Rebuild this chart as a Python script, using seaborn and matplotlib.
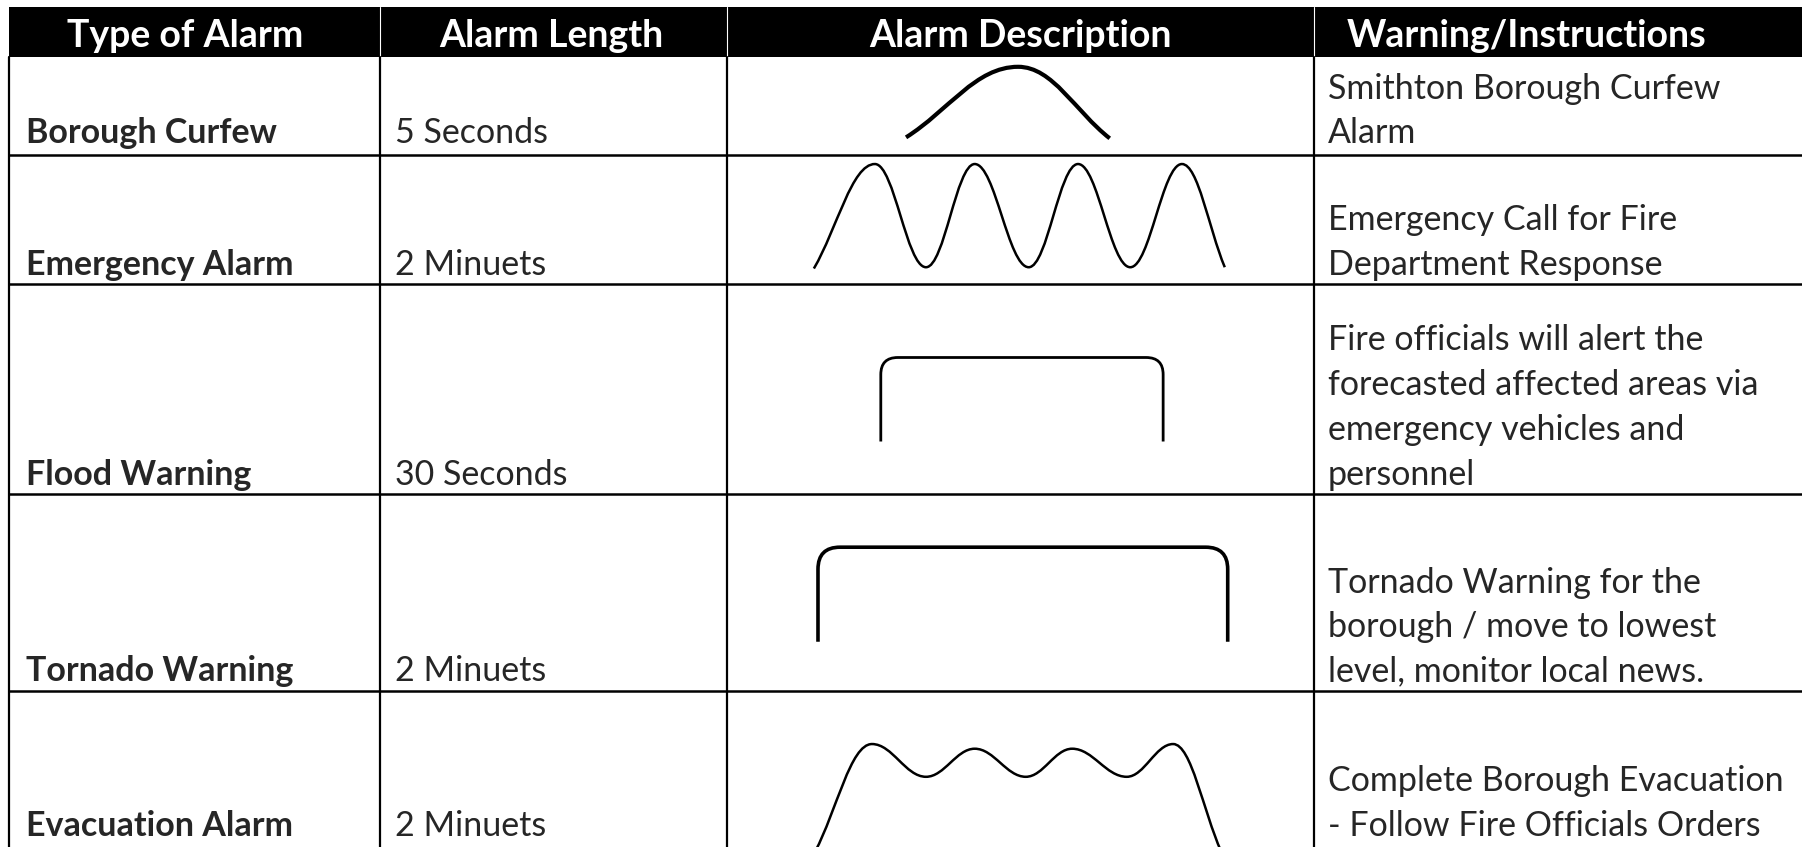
import matplotlib
matplotlib.use("Agg")
import matplotlib.pyplot as plt
import seaborn as sns
from matplotlib.path import Path
from matplotlib.patches import PathPatch, Rectangle

# table content
headers = ["Type of Alarm", "Alarm Length", "Alarm Description", "Warning/Instructions"]
alarm_types = ["Borough Curfew", "Emergency Alarm", "Flood Warning", "Tornado Warning", "Evacuation Alarm"]
alarm_lengths = ["5 Seconds", "2 Minuets", "30 Seconds", "2 Minuets", "2 Minuets"]
instructions = [
    ["Smithton Borough Curfew", "Alarm"],
    ["Emergency Call for Fire", "Department Response"],
    ["Fire officials will alert the", "forecasted affected areas via",
     "emergency vehicles and", "personnel"],
    ["Tornado Warning for the", "borough / move to lowest", "level, monitor local news."],
    ["Complete Borough Evacuation", "- Follow Fire Officials Orders"],
]

# siren profiles (time and level as fractions of the cell)
curfew_t = [0.305, 0.496, 0.652]
curfew_level = [0.18, 0.90, 0.17]
emergency_t = [0.148, 0.252, 0.339, 0.422, 0.514, 0.598, 0.687, 0.775, 0.848]
emergency_level = [0.12, 0.93, 0.13, 0.93, 0.13, 0.93, 0.13, 0.93, 0.13]
flood_t = [0.262, 0.262, 0.743, 0.743]
flood_level = [0.25, 0.65, 0.65, 0.25]
tornado_t = [0.155, 0.155, 0.853, 0.853]
tornado_level = [0.25, 0.73, 0.73, 0.25]
evac_t = [0.150, 0.247, 0.339, 0.422, 0.509, 0.588, 0.681, 0.760, 0.842]
evac_level = [-0.03, 0.66, 0.45, 0.63, 0.45, 0.63, 0.45, 0.66, -0.03]

W, H = 1802, 847
col_edges = [9, 380, 727, 1314, W]
row_edges = [57, 155, 284, 494, 691, 847]
header_top = 7
last_baseline = [143, 275, 485, 681, 836]
line_gap = [44, 45, 45, 44, 45]
header_x = [185, 551, 1020, 1527]

sns.set_theme(style="white")
plt.rcParams["font.family"] = ["Lato", "DejaVu Sans"]

fig = plt.figure(figsize=(W / 100, H / 100), dpi=100)
ax = fig.add_axes([0, 0, 1, 1])
ax.set_xlim(0, W)
ax.set_ylim(H, 0)
ax.axis("off")

# header band
ax.add_patch(Rectangle((col_edges[0], header_top), W - col_edges[0], row_edges[0] - header_top,
                       facecolor="black", edgecolor="none"))
for x in col_edges[1:-1]:
    ax.plot([x, x], [header_top, row_edges[0]], color="white", lw=0.8)
for hx, h in zip(header_x, headers):
    ax.text(hx, 47, h, color="white", fontsize=27, fontweight="bold",
            ha="center", va="baseline")

# grid
for x in col_edges[:-1]:
    ax.plot([x, x], [row_edges[0], H], color="black", lw=1.6)
for y in row_edges[1:-1]:
    ax.plot([col_edges[0], W], [y, y], color="black", lw=1.8)

# cell text
for i in range(len(alarm_types)):
    base = last_baseline[i]
    ax.text(26, base, alarm_types[i], fontsize=24.5, fontweight="bold", va="baseline")
    ax.text(395, base, alarm_lengths[i], fontsize=24.5, va="baseline")
    lines = instructions[i]
    for j, line in enumerate(lines):
        y = base - (len(lines) - 1 - j) * line_gap[i]
        ax.text(1328, y, line, fontsize=24.5, va="baseline")


def smooth_path(ts, levels, k=0.38):
    verts = [(ts[0], levels[0])]
    codes = [Path.MOVETO]
    n = len(ts)
    for i in range(n - 1):
        x0, y0, x1, y1 = ts[i], levels[i], ts[i + 1], levels[i + 1]
        dx = x1 - x0
        c1 = (x0 + k * dx, y0 + k * (y1 - y0)) if i == 0 else (x0 + k * dx, y0)
        c2 = (x1 - k * dx, y1 - k * (y1 - y0)) if i + 1 == n - 1 else (x1 - k * dx, y1)
        verts += [c1, c2, (x1, y1)]
        codes += [Path.CURVE4] * 3
    return Path(verts, codes)


def box_path(ts, levels, rx, ry):
    (xl, xr), (yb, yt) = (ts[0], ts[-1]), (levels[0], levels[1])
    verts = [(xl, yb), (xl, yt - ry), (xl, yt), (xl + rx, yt),
             (xr - rx, yt), (xr, yt), (xr, yt - ry), (xr, levels[-1])]
    codes = [Path.MOVETO, Path.LINETO, Path.CURVE3, Path.CURVE3,
             Path.LINETO, Path.CURVE3, Path.CURVE3, Path.LINETO]
    return Path(verts, codes)


def cell_axes(row):
    x0, x1 = col_edges[2], col_edges[3]
    y0, y1 = row_edges[row], row_edges[row + 1]
    cax = fig.add_axes([x0 / W, 1 - y1 / H, (x1 - x0) / W, (y1 - y0) / H])
    cax.set_xlim(0, 1)
    cax.set_ylim(0, 1)
    cax.axis("off")
    cax.patch.set_alpha(0)
    return cax, x1 - x0, y1 - y0


profiles = [
    ("smooth", curfew_t, curfew_level, 3.0),
    ("smooth", emergency_t, emergency_level, 1.8),
    ("box", flood_t, flood_level, 2.0),
    ("box", tornado_t, tornado_level, 2.6),
    ("smooth", evac_t, evac_level, 1.8),
]
corner_px = [0, 0, 17, 22, 0]

for r, (kind, ts, lv, lw) in enumerate(profiles):
    cax, cw, ch = cell_axes(r)
    if kind == "smooth":
        p = smooth_path(ts, lv)
    else:
        p = box_path(ts, lv, corner_px[r] / cw, corner_px[r] / ch)
    cax.add_patch(PathPatch(p, facecolor="none", edgecolor="black", lw=lw,
                            capstyle="butt", clip_on=False))

fig.savefig("out.png", dpi=100, facecolor="white")
